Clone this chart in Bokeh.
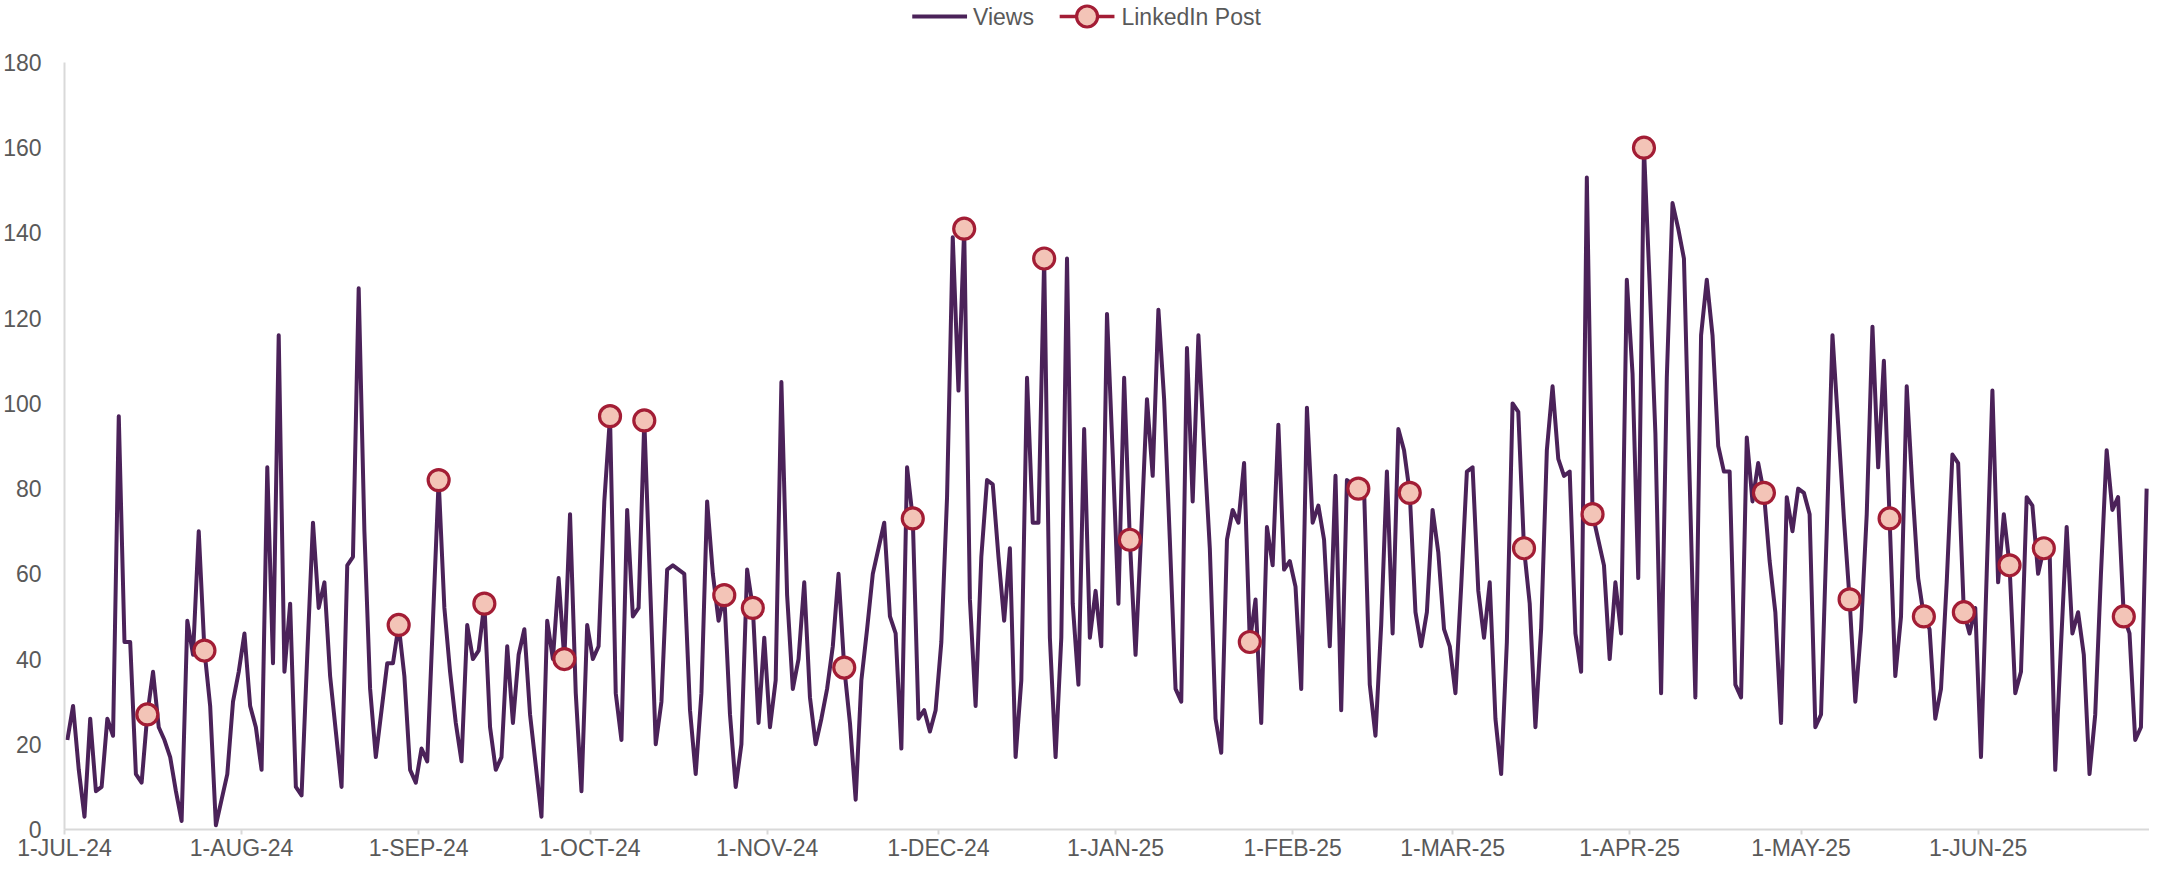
import numpy as np
import pandas as pd
from bokeh.plotting import figure
from bokeh.layouts import column
from bokeh.models import Range1d, FixedTicker
from bokeh.core.properties import value
from bokeh.embed import file_html
from bokeh.resources import INLINE

start_date = "2024-07-01"

# Daily views, 1-Jul-2024 .. 30-Jun-2025
views = [
    21, 29, 14, 3, 26, 9, 10, 26, 22, 97, 44, 44, 13, 11, 27, 37, 24, 21, 17, 9,
    2, 49, 41, 70, 42, 29, 1, 7, 13, 30, 37,
    46, 29, 24, 14, 85, 39, 116, 37, 53, 10, 8, 41, 72, 52, 58, 36, 23, 10, 62,
    64, 127, 70, 33, 17, 28, 39, 39, 48, 36, 14, 11,
    19, 16, 49, 82, 52, 37, 25, 16, 48, 40, 42, 53, 24, 14, 17, 43, 25, 41, 47,
    27, 15, 3, 49, 40, 59, 40, 74, 32, 9, 48,
    40, 43, 77, 97, 32, 21, 75, 50, 52, 96, 58, 20, 30, 61, 62, 61, 60, 28, 13,
    32, 77, 60, 49, 55, 27, 10, 20, 61, 52, 25, 45,
    24, 35, 105, 55, 33, 40, 58, 31, 20, 26, 33, 43, 60, 38, 25, 7, 35, 47, 60,
    66, 72, 50, 46, 19, 85, 73, 26, 28, 23, 28,
    44, 78, 139, 103, 141, 54, 29, 64, 82, 81, 64, 49, 66, 17, 35, 106, 72, 72,
    134, 45, 17, 45, 134, 53, 34, 94, 45, 56, 43, 121, 88,
    53, 106, 68, 41, 70, 101, 83, 122, 101, 68, 33, 30, 113, 77, 116, 90, 66,
    26, 18, 68, 75, 72, 86, 44, 54, 25, 71, 62, 95, 61, 63,
    57, 33, 99, 72, 76, 68, 43, 83, 28, 82, 81, 80, 80, 34, 22, 48, 84, 46, 94,
    89, 79, 51, 43, 51, 75, 65, 47, 43,
    32, 57, 84, 85, 56, 45, 58, 26, 13, 44, 100, 98, 66, 53, 24, 47, 89, 104,
    87, 83, 84, 46, 37, 153, 74, 68, 62, 40, 58, 46, 129,
    107, 59, 160, 128, 93, 32, 106, 147, 141, 134, 82, 31, 116, 129, 116, 90,
    84, 84, 34, 31, 92, 77, 86, 79, 63, 51, 25, 78,
    70, 80, 79, 74, 24, 27, 70, 116, 95, 73, 54, 30, 47, 74, 118, 85, 110, 73,
    36, 50, 104, 80, 59, 50, 47, 26, 33, 58, 88, 86, 51,
    46, 52, 17, 60, 103, 58, 74, 62, 32, 37, 78, 76, 60, 66, 66, 14, 43, 71, 46,
    51, 41, 13, 27, 60, 89, 75, 78, 50, 46, 21, 24, 80,
]

# Dates of LinkedIn posts
post_dates = [
    "2024-07-15", "2024-07-25", "2024-08-28", "2024-09-04", "2024-09-12",
    "2024-09-26", "2024-10-04", "2024-10-10", "2024-10-24", "2024-10-29",
    "2024-11-14", "2024-11-26", "2024-12-05", "2024-12-19", "2025-01-03",
    "2025-01-24", "2025-02-12", "2025-02-21", "2025-03-13", "2025-03-25",
    "2025-04-03", "2025-04-24", "2025-05-09", "2025-05-16", "2025-05-22",
    "2025-05-29", "2025-06-06", "2025-06-12", "2025-06-26",
]

series_names = ["Views", "LinkedIn Post"]
x_tick_labels = [
    "1-JUL-24", "1-AUG-24", "1-SEP-24", "1-OCT-24", "1-NOV-24", "1-DEC-24",
    "1-JAN-25", "1-FEB-25", "1-MAR-25", "1-APR-25", "1-MAY-25", "1-JUN-25",
]
y_ticks = [0, 20, 40, 60, 80, 100, 120, 140, 160, 180]

# ---- derived positions (day index, points centred in their day) ----
dates = pd.date_range(start_date, periods=len(views), freq="D")
t0 = dates[0]
x_views = np.asarray((dates - t0).days, dtype=float) + 0.5
views_by_date = dict(zip(dates.strftime("%Y-%m-%d"), views))
post_x = [(pd.Timestamp(d) - t0).days + 0.5 for d in post_dates]
post_y = [views_by_date[d] for d in post_dates]
month_starts = pd.date_range(start_date, periods=len(x_tick_labels), freq="MS")
tick_pos = [int((m - t0).days) for m in month_starts]

FONT = "Liberation Sans"
TXT = "#595959"
AXIS = "#D9D9D9"
LINE = "#4B2259"
MK_LINE = "#A31D35"
MK_FILL = "#F3C4B7"
W = 2149
LEFT = 56
LEG_H = 40
MAIN_H = 863 - LEG_H

# ---------------- legend strip (own figure; its frame is aligned with the chart's) ----
leg = figure(width=W, height=LEG_H, output_backend="svg", toolbar_location=None,
             x_range=Range1d(LEFT, W), y_range=Range1d(0, LEG_H),
             x_axis_type=None, y_axis_type=None, min_border=0, min_border_left=LEFT)
leg.outline_line_color = None
leg.grid.visible = False
ly = LEG_H - 16
leg.line([907, 962], [ly, ly], line_color=LINE, line_width=4)
leg.text(x=[968], y=[ly], text=[series_names[0]], text_font=value(FONT),
         text_font_size="23px", text_color=TXT, text_baseline="middle", text_align="left")
leg.line([1055, 1110], [ly, ly], line_color=MK_LINE, line_width=3.5)
leg.scatter([1082.5], [ly], marker="circle", size=21, fill_color=MK_FILL,
            line_color=MK_LINE, line_width=3.2)
leg.text(x=[1117], y=[ly], text=[series_names[1]], text_font=value(FONT),
         text_font_size="23px", text_color=TXT, text_baseline="middle", text_align="left")

# ---------------- main chart ----------------
p = figure(
    width=W, height=MAIN_H,
    output_backend="svg", toolbar_location=None,
    x_range=Range1d(0, 365), y_range=Range1d(0, 180),
    min_border_left=LEFT, min_border_right=0, min_border_top=22, min_border_bottom=0,
)
p.outline_line_color = None
p.background_fill_color = "white"
p.border_fill_color = "white"
p.xgrid.visible = False
p.ygrid.visible = False

p.yaxis.ticker = FixedTicker(ticks=y_ticks)
p.yaxis.major_tick_line_color = None
p.yaxis.minor_tick_line_color = None
p.yaxis.axis_line_color = AXIS
p.yaxis.axis_line_width = 2
p.yaxis.major_label_text_font = FONT
p.yaxis.major_label_text_font_size = "23px"
p.yaxis.major_label_text_color = TXT
p.yaxis.major_label_standoff = 17

p.xaxis.ticker = FixedTicker(ticks=tick_pos)
p.xaxis.major_label_overrides = {pos: lab for pos, lab in zip(tick_pos, x_tick_labels)}
p.xaxis.major_tick_in = 0
p.xaxis.major_tick_out = 5
p.xaxis.major_tick_line_color = AXIS
p.xaxis.major_tick_line_width = 2
p.xaxis.minor_tick_line_color = None
p.xaxis.axis_line_color = AXIS
p.xaxis.axis_line_width = 2
p.xaxis.major_label_text_font = FONT
p.xaxis.major_label_text_font_size = "23px"
p.xaxis.major_label_text_color = TXT
p.xaxis.major_label_standoff = 0

p.line(x_views, views, line_color=LINE, line_width=4, line_join="round")
p.scatter(post_x, post_y, marker="circle", size=21,
          fill_color=MK_FILL, line_color=MK_LINE, line_width=3.2)

layout = column(leg, p, spacing=0)
open("out.html", "w").write(file_html(layout, INLINE))
